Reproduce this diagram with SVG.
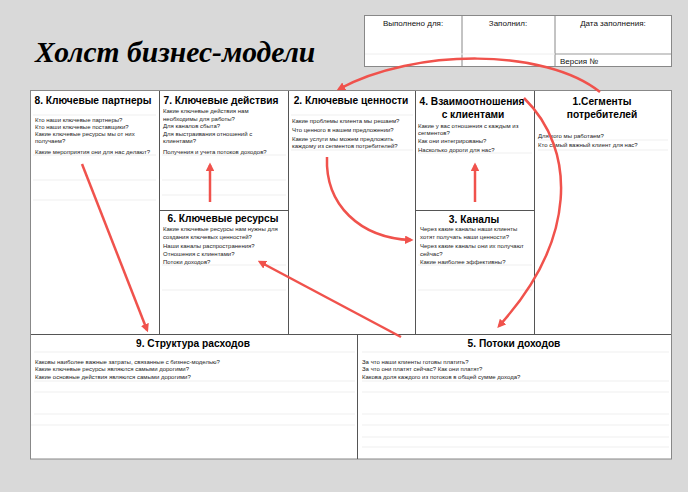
<svg xmlns="http://www.w3.org/2000/svg" width="688" height="492" viewBox="0 0 688 492">
<defs>
<style>
.h{font-family:"Liberation Sans",Arial,sans-serif;font-weight:bold;font-size:10.2px;fill:#000;text-anchor:middle}
.q{font-family:"Liberation Sans",Arial,sans-serif;font-size:6px;fill:#222}
.t{font-family:"Liberation Sans",Arial,sans-serif;font-size:8px;fill:#111}
.g{stroke:#555;stroke-width:1;fill:none}
.rl{stroke:#efefef;stroke-width:1}
.ar{stroke:#f0524c;stroke-width:2.5;fill:none;marker-end:url(#ah)}
</style>
<marker id="ah" viewBox="0 0 10 10" refX="7" refY="5" markerWidth="3.4" markerHeight="3.4" orient="auto" markerUnits="strokeWidth">
<path d="M0,0 L10,5 L0,10 z" fill="#f0524c"/>
</marker>
</defs>
<rect x="0" y="0" width="688" height="492" fill="#d9d9d9"/>
<text x="35" y="62" font-family="Liberation Serif,Times New Roman,serif" font-style="italic" font-weight="bold" font-size="29.6" fill="#000">Холст бизнес-модели</text>
<g id="header-table">
<rect x="364.5" y="15.5" width="307" height="51" fill="#fff" stroke="#888"/>
<line x1="462" y1="15.5" x2="462" y2="66.5" stroke="#888"/>
<line x1="555" y1="15.5" x2="555" y2="66.5" stroke="#888"/>
<line x1="365" y1="54" x2="555" y2="54" stroke="#eee"/>
<line x1="555" y1="54" x2="671" y2="54" stroke="#999"/>
<text class="t" x="413" y="26" text-anchor="middle">Выполнено для:</text>
<text class="t" x="508" y="26" text-anchor="middle">Заполнил:</text>
<text class="t" x="613" y="26" text-anchor="middle">Дата заполнения:</text>
<text class="t" x="560" y="64">Версия №</text>
</g>
<rect x="30.5" y="90.5" width="641" height="368.5" fill="#fff" stroke="#888"/>
<g id="rowlines">
<line class="rl" x1="33" y1="115" x2="156" y2="115"/><line class="rl" x1="33" y1="155" x2="156" y2="155"/><line class="rl" x1="33" y1="180" x2="156" y2="180"/><line class="rl" x1="33" y1="200" x2="156" y2="200"/>
<line class="rl" x1="162" y1="155" x2="286" y2="155"/><line class="rl" x1="162" y1="180" x2="286" y2="180"/><line class="rl" x1="162" y1="195" x2="286" y2="195"/>
<line class="rl" x1="162" y1="265" x2="286" y2="265"/><line class="rl" x1="162" y1="290" x2="286" y2="290"/>
<line class="rl" x1="291" y1="115" x2="413" y2="115"/><line class="rl" x1="291" y1="150" x2="413" y2="150"/>
<line class="rl" x1="418" y1="153" x2="532" y2="153"/><line class="rl" x1="418" y1="265" x2="532" y2="265"/><line class="rl" x1="418" y1="290" x2="532" y2="290"/>
<line class="rl" x1="538" y1="140" x2="668" y2="140"/><line class="rl" x1="538" y1="150" x2="668" y2="150"/>
<line class="rl" x1="34" y1="352" x2="355" y2="352"/><line class="rl" x1="34" y1="381" x2="355" y2="381"/><line class="rl" x1="34" y1="392" x2="355" y2="392"/><line class="rl" x1="34" y1="414" x2="355" y2="414"/><line class="rl" x1="31" y1="425" x2="355" y2="425"/>
<line class="rl" x1="362" y1="352" x2="669" y2="352"/><line class="rl" x1="362" y1="381" x2="669" y2="381"/><line class="rl" x1="362" y1="392" x2="669" y2="392"/><line class="rl" x1="362" y1="414" x2="669" y2="414"/><line class="rl" x1="362" y1="425" x2="669" y2="425"/><line class="rl" x1="362" y1="437" x2="669" y2="437"/><line class="rl" x1="362" y1="447" x2="669" y2="447"/>
</g>
<g id="grid">
<line class="g" x1="159.5" y1="91" x2="159.5" y2="334"/>
<line class="g" x1="288.5" y1="91" x2="288.5" y2="334"/>
<line class="g" x1="415.5" y1="91" x2="415.5" y2="334"/>
<line class="g" x1="534.5" y1="91" x2="534.5" y2="334"/>
<line class="g" x1="159.5" y1="210.5" x2="288.5" y2="210.5"/>
<line class="g" x1="415.5" y1="210.5" x2="534.5" y2="210.5"/>
<line class="g" x1="31" y1="334.5" x2="671" y2="334.5"/>
<line class="g" x1="357.5" y1="334.5" x2="357.5" y2="459"/>
</g>
<g id="n8">
<text class="h" x="93" y="104">8. Ключевые партнеры</text>
<text class="q" x="35" y="122">Кто наши ключевые партнеры?</text>
<text class="q" x="35" y="129">Кто наши ключевые поставщики?</text>
<text class="q" x="35" y="136">Какие ключевые ресурсы мы от них</text>
<text class="q" x="35" y="143">получаем?</text>
<text class="q" x="35" y="154">Какие мероприятия они для нас делают?</text>
</g>
<g id="n7">
<text class="h" x="221" y="104">7. Ключевые действия</text>
<text class="q" x="163" y="113">Какие ключевые действия нам</text>
<text class="q" x="163" y="121">необходимы для работы?</text>
<text class="q" x="163" y="128">Для каналов сбыта?</text>
<text class="q" x="163" y="136">Для выстраивания отношений с</text>
<text class="q" x="163" y="143">клиентами?</text>
<text class="q" x="163" y="154">Получения и учета потоков доходов?</text>
</g>
<g id="n2">
<text class="h" x="351" y="104">2. Ключевые ценности</text>
<text class="q" x="292" y="123">Какие проблемы клиента мы решаем?</text>
<text class="q" x="292" y="132">Что ценного в нашем предложении?</text>
<text class="q" x="292" y="141">Какие услуги мы можем предложить</text>
<text class="q" x="292" y="148">каждому из сегментов потребителей?</text>
</g>
<g id="n4">
<text class="h" x="472" y="105">4. Взаимоотношения</text>
<text class="h" x="473" y="118">с клиентами</text>
<text class="q" x="418" y="128">Какие у вас отношения с каждым из</text>
<text class="q" x="418" y="135">сегментов?</text>
<text class="q" x="418" y="143">Как они интегрированы?</text>
<text class="q" x="418" y="152">Насколько дороги для нас?</text>
</g>
<g id="n1">
<text class="h" x="602" y="105">1.Сегменты</text>
<text class="h" x="602" y="118">потребителей</text>
<text class="q" x="538" y="138">Для кого мы работаем?</text>
<text class="q" x="538" y="147">Кто самый важный клиент для нас?</text>
</g>
<g id="n6">
<text class="h" x="223" y="222">6. Ключевые ресурсы</text>
<text class="q" x="163" y="231">Какие ключевые ресурсы нам нужны для</text>
<text class="q" x="163" y="239">создания ключевых ценностей?</text>
<text class="q" x="163" y="248">Наши каналы распространения?</text>
<text class="q" x="163" y="256">Отношения с клиентами?</text>
<text class="q" x="163" y="264">Потоки доходов?</text>
</g>
<g id="n3">
<text class="h" x="474" y="223">3. Каналы</text>
<text class="q" x="420" y="231">Через какие каналы наши клиенты</text>
<text class="q" x="420" y="239">хотят получать наши ценности?</text>
<text class="q" x="420" y="248">Через какие каналы они их получают</text>
<text class="q" x="420" y="256">сейчас?</text>
<text class="q" x="420" y="264">Какие наиболее эффективны?</text>
</g>
<g id="n9">
<text class="h" x="193" y="347">9. Структура расходов</text>
<text class="q" x="35" y="364">Каковы наиболее важные затраты, связанные с бизнес-моделью?</text>
<text class="q" x="35" y="371">Какие ключевые ресурсы являются самыми дорогими?</text>
<text class="q" x="35" y="379">Какие основные действия являются самыми дорогими?</text>
</g>
<g id="n5">
<text class="h" x="514" y="347">5. Потоки доходов</text>
<text class="q" x="362" y="364">За что наши клиенты готовы платить?</text>
<text class="q" x="362" y="371">За что они платят сейчас? Как они платят?</text>
<text class="q" x="362" y="379">Какова доля каждого из потоков в общей сумме дохода?</text>
</g>
<g id="connectors">
<path class="ar" d="M600,92 C545,48 415,48 339,89"/>
<path class="ar" d="M524,98 C577,150 577,240 499,326"/>
<path class="ar" d="M327,157 C325,205 360,238 411,240"/>
<path class="ar" d="M210,202 L210,165"/>
<path class="ar" d="M475,202 L475,165"/>
<path class="ar" d="M82,164 L147,330"/>
<path class="ar" d="M401,337 L260,262"/>
</g>
</svg>
